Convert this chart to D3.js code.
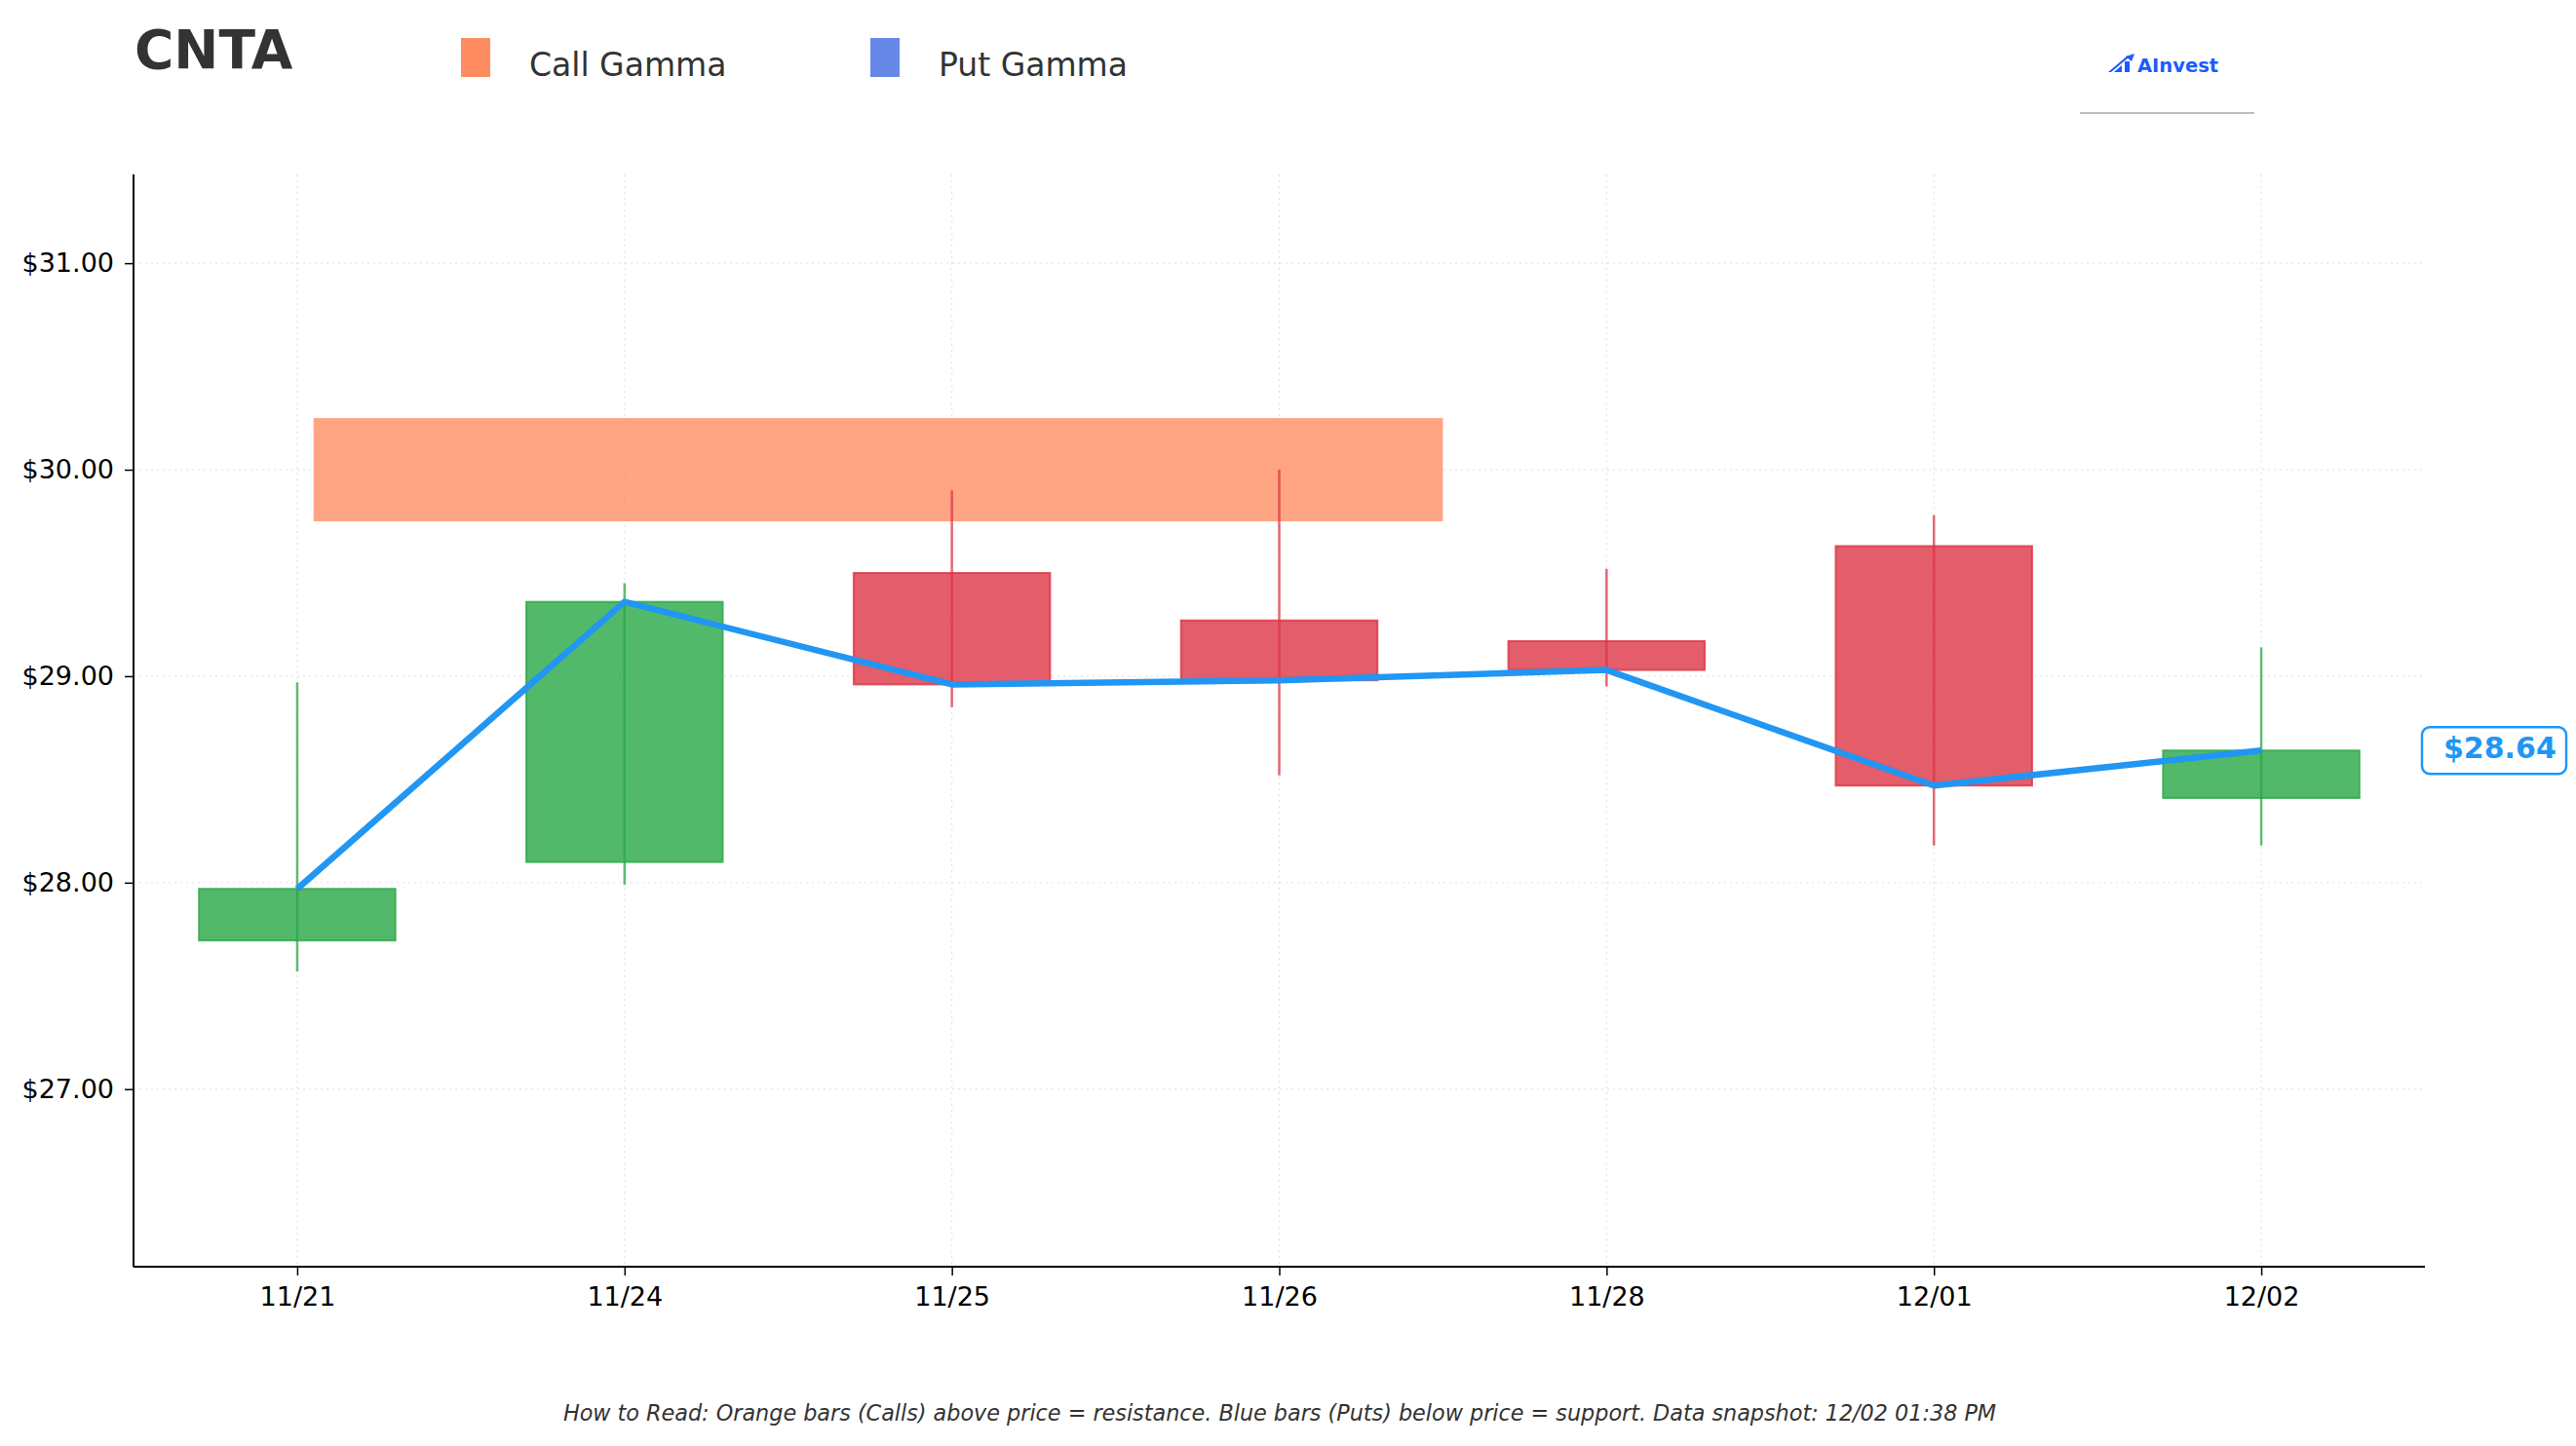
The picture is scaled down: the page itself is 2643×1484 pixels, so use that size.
<!DOCTYPE html>
<html>
<head>
<meta charset="utf-8">
<script src="https://cdn.jsdelivr.net/npm/d3@7"></script>
<style>
  html, body { margin: 0; padding: 0; background: #fff; }
  svg { display: block; font-family: "DejaVu Sans", sans-serif; }
</style>
</head>
<body>
<svg id="chart" width="2643" height="1484"></svg>
<script>
// Chart data
const ticker = "CNTA";
const dates = ["11/21", "11/24", "11/25", "11/26", "11/28", "12/01", "12/02"];
const openPrices = [27.72, 28.10, 29.50, 29.27, 29.17, 29.63, 28.41];
const highPrices = [28.97, 29.45, 29.90, 30.00, 29.52, 29.78, 29.14];
const lowPrices = [27.57, 27.99, 28.85, 28.52, 28.95, 28.18, 28.18];
const closePrices = [27.97, 29.36, 28.96, 28.98, 29.03, 28.47, 28.64];

// gamma levels (strike, bar length in day units)
const callStrikes = [30.0];
const callGamma = [3.45];
const putStrikes = [];
const putGamma = [];

const yTicks = [27, 28, 29, 30, 31];
const footerText = "How to Read: Orange bars (Calls) above price = resistance. Blue bars (Puts) below price = support. Data snapshot: 12/02 01:38 PM";

const svg = d3.select("#chart");
const margin = { top: 179, right: 155, bottom: 184, left: 137 };
const W = 2643, H = 1484;
const innerW = W - margin.left - margin.right;
const innerH = H - margin.top - margin.bottom;

const x = d3.scaleLinear().domain([-0.5, dates.length - 0.5]).range([0, innerW]);
const y = d3.scaleLinear().domain([26.14, 31.43]).range([innerH, 0]);
const dayW = x(1) - x(0);

const GREEN = "#28a745", RED = "#dc3545", LINE = "#2196F3";

const g = svg.append("g").attr("transform", `translate(${margin.left},${margin.top})`);

// dotted grid
g.append("g").selectAll("line").data(yTicks).join("line")
  .attr("x1", 0).attr("x2", innerW)
  .attr("y1", d => y(d)).attr("y2", d => y(d))
  .attr("stroke", "#ccc").attr("stroke-width", 1)
  .attr("stroke-dasharray", "2,4").attr("opacity", 0.6);
g.append("g").selectAll("line").data(dates).join("line")
  .attr("x1", (d, i) => x(i)).attr("x2", (d, i) => x(i))
  .attr("y1", 0).attr("y2", innerH)
  .attr("stroke", "#ccc").attr("stroke-width", 1)
  .attr("stroke-dasharray", "2,4").attr("opacity", 0.6);

// gamma bars
const barH = y(0) - y(0.5);
g.append("g").selectAll("rect").data(callStrikes).join("rect")
  .attr("x", x(0.05))
  .attr("y", d => y(d) - barH / 2)
  .attr("width", (d, i) => x(0.05 + callGamma[i]) - x(0.05))
  .attr("height", barH)
  .attr("fill", "#FF7F50").attr("fill-opacity", 0.7);
g.append("g").selectAll("rect").data(putStrikes).join("rect")
  .attr("x", x(0.05))
  .attr("y", d => y(d) - barH / 2)
  .attr("width", (d, i) => x(0.05 + putGamma[i]) - x(0.05))
  .attr("height", barH)
  .attr("fill", "#4169E1").attr("fill-opacity", 0.7);

// candles
const candles = dates.map((d, i) => ({
  i, open: openPrices[i], high: highPrices[i], low: lowPrices[i], close: closePrices[i],
  up: closePrices[i] >= openPrices[i]
}));

const cg = g.append("g");
cg.selectAll("line.wick").data(candles).join("line")
  .attr("class", "wick")
  .attr("x1", d => x(d.i)).attr("x2", d => x(d.i))
  .attr("y1", d => y(d.high)).attr("y2", d => y(d.low))
  .attr("stroke", d => d.up ? GREEN : RED)
  .attr("stroke-opacity", 0.75)
  .attr("stroke-width", 2.5);
cg.selectAll("rect.body").data(candles).join("rect")
  .attr("class", "body")
  .attr("x", d => x(d.i) - dayW * 0.3)
  .attr("width", dayW * 0.6)
  .attr("y", d => y(Math.max(d.open, d.close)))
  .attr("height", d => Math.abs(y(d.open) - y(d.close)))
  .attr("fill", d => d.up ? GREEN : RED)
  .attr("fill-opacity", 0.8)
  .attr("stroke", d => d.up ? GREEN : RED)
  .attr("stroke-opacity", 0.8)
  .attr("stroke-width", 2);

// close price line
g.append("path")
  .datum(closePrices)
  .attr("fill", "none")
  .attr("stroke", LINE)
  .attr("stroke-width", 6.5)
  .attr("stroke-linejoin", "round")
  .attr("d", d3.line().x((d, i) => x(i)).y(d => y(d)));

// axes
const yAxis = d3.axisLeft(y).tickValues(yTicks).tickFormat(d => `$${d.toFixed(2)}`).tickSize(9).tickPadding(11);
const xAxis = d3.axisBottom(x).tickValues(d3.range(dates.length)).tickFormat(i => dates[i]).tickSize(9).tickPadding(12);

const ya = g.append("g").call(yAxis);
const xa = g.append("g").attr("transform", `translate(0,${innerH})`).call(xAxis);
[ya, xa].forEach(a => {
  a.select(".domain").attr("stroke", "#000").attr("stroke-width", 2);
  a.selectAll(".tick line").attr("stroke", "#000").attr("stroke-width", 1.5);
  a.selectAll(".tick text").attr("fill", "#000").style("font-size", "27px")
    .style("font-family", "DejaVu Sans");
});
ya.select(".domain").attr("d", `M0,${innerH}V0`);
xa.select(".domain").attr("d", `M0,0H${innerW}`);

// last price tag
const last = closePrices[closePrices.length - 1];
const tagY = margin.top + y(last);
const tagX = margin.left + innerW;
svg.append("rect")
  .attr("x", tagX - 3).attr("y", tagY - 24)
  .attr("width", 148).attr("height", 48)
  .attr("rx", 8)
  .attr("fill", "#fff").attr("stroke", LINE).attr("stroke-width", 2.5);
svg.append("text")
  .attr("x", tagX + 19).attr("y", tagY + 8)
  .attr("fill", LINE)
  .style("font-size", "30px").style("font-weight", "bold")
  .text(`$${last.toFixed(2)}`);

// title
svg.append("text")
  .attr("x", 138).attr("y", 70)
  .attr("fill", "#333")
  .style("font-size", "55px").style("font-weight", "bold")
  .text(ticker);

// legend
const legend = [
  { label: "Call Gamma", color: "#FF7F50", op: 0.9, x: 473 },
  { label: "Put Gamma", color: "#4169E1", op: 0.8, x: 893 }
];
const lg = svg.append("g").selectAll("g").data(legend).join("g")
  .attr("transform", d => `translate(${d.x},39)`);
lg.append("rect").attr("width", 30).attr("height", 40)
  .attr("fill", d => d.color).attr("fill-opacity", d => d.op);
lg.append("text").attr("x", 70).attr("y", 39)
  .attr("fill", "#333").style("font-size", "33px")
  .text(d => d.label);

// logo
const logo = svg.append("g").attr("transform", "translate(2163,55)");
logo.append("path").attr("d", "M0,19 L20,2 L21,4 L3,19 Z").attr("fill", "#1a5cff");
logo.append("path").attr("d", "M6,19 L14,12 L14,19 Z").attr("fill", "#1a5cff");
logo.append("rect").attr("x", 17).attr("y", 8).attr("width", 5).attr("height", 11).attr("fill", "#1a5cff");
logo.append("path").attr("d", "M18,3 L27,0 L24,8 Z").attr("fill", "#1a5cff");
svg.append("text")
  .attr("x", 2193).attr("y", 74)
  .attr("fill", "#1a5cff")
  .style("font-size", "19.5px").style("font-weight", "bold")
  .text("AInvest");
svg.append("line")
  .attr("x1", 2134).attr("x2", 2313).attr("y1", 116).attr("y2", 116)
  .attr("stroke", "#bdbdbd").attr("stroke-width", 2);

// footer
svg.append("text")
  .attr("x", 1313).attr("y", 1458)
  .attr("text-anchor", "middle")
  .attr("fill", "#333")
  .style("font-size", "22.3px").style("font-style", "italic")
  .text(footerText);
</script>
</body>
</html>
